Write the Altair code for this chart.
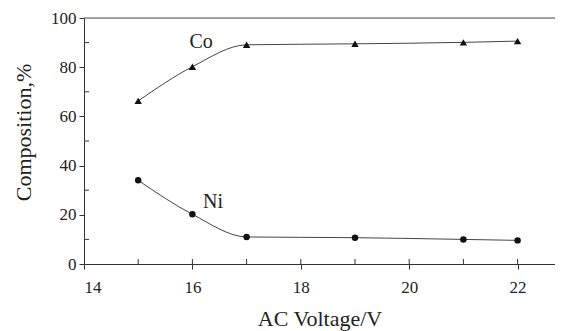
import altair as alt
import pandas as pd

voltage = [15, 16, 17, 19, 21, 22]
co = [66.3, 80.2, 89.1, 89.5, 90.1, 90.6]
ni = [34.0, 20.2, 11.0, 10.7, 10.0, 9.6]

x_major = [14, 16, 18, 20, 22]
x_minor = [15, 16, 17, 18, 19, 20, 21, 22]
y_major = [0, 20, 40, 60, 80, 100]
y_minor = [10, 30, 50, 70, 90]

labels = ["Co", "Ni"]
label_x = [16.16, 16.38]
label_y = [87.8, 22.8]

FONT = "Liberation Serif"
W, H = 471, 246
PX_PER_V = 54.2

df = pd.DataFrame({
    "v": voltage * 2,
    "c": co + ni,
    "s": ["Co"] * len(voltage) + ["Ni"] * len(voltage),
})

xs = alt.Scale(domain=[14, 14 + W / PX_PER_V], nice=False, zero=False)
ys = alt.Scale(domain=[0, 100], nice=False)

xax = alt.Axis(values=x_major, format="d", title="AC Voltage/V", tickSize=5,
               labelFont=FONT, labelFontSize=17, labelColor="#222", labelPadding=10,
               titleFont=FONT, titleFontSize=22, titleFontWeight="normal", titleColor="#222",
               titlePadding=13, grid=False, domainColor="#333", tickColor="#333")
yax = alt.Axis(values=y_major, title="Composition,%", tickSize=5,
               labelFont=FONT, labelFontSize=17, labelColor="#222", labelPadding=3,
               titleFont=FONT, titleFontSize=22, titleFontWeight="normal", titleColor="#222",
               titleX=-61, titleY=114, titleAlign="center", titleBaseline="middle", titleAngle=270,
               grid=False, domainColor="#333", tickColor="#333")

base = alt.Chart(df)

lines = base.mark_line(interpolate="monotone", color="#444", strokeWidth=1).encode(
    x=alt.X("v:Q", scale=xs, axis=xax),
    y=alt.Y("c:Q", scale=ys, axis=yax),
    detail="s:N",
)

pts = base.mark_point(filled=True, opacity=1, color="#111").encode(
    x=alt.X("v:Q", scale=xs),
    y=alt.Y("c:Q", scale=ys),
    shape=alt.Shape("s:N", scale=alt.Scale(domain=["Co", "Ni"], range=["triangle-up", "circle"]), legend=None),
    size=alt.Size("s:N", scale=alt.Scale(domain=["Co", "Ni"], range=[55, 42]), legend=None),
)

lab = alt.Chart(pd.DataFrame({"t": labels, "x": label_x, "y": label_y})).mark_text(
    font=FONT, fontSize=20, color="#222", baseline="alphabetic").encode(
    x=alt.X("x:Q", scale=xs), y=alt.Y("y:Q", scale=ys), text="t:N")

top = alt.Chart(pd.DataFrame({"y": [100]})).mark_rule(color="#555", strokeWidth=1).encode(
    y=alt.Y("y:Q", scale=ys), x=alt.value(0), x2=alt.value(W))

ymin = alt.Chart(pd.DataFrame({"y": y_minor})).mark_rule(color="#333", strokeWidth=1).encode(
    y=alt.Y("y:Q", scale=ys), x=alt.value(0), x2=alt.value(5))

xmin = alt.Chart(pd.DataFrame({"x": x_minor})).mark_rule(color="#333", strokeWidth=1).encode(
    x=alt.X("x:Q", scale=xs), y=alt.value(H), y2=alt.value(H - 5))

chart = alt.layer(top, ymin, xmin, lines, pts, lab).properties(
    width=W, height=H,
    autosize=alt.AutoSizeParams(type="none"),
    padding={"left": 76, "top": 10, "right": 0, "bottom": 67},
).configure_view(stroke=None).configure(background="white")

chart.save("out.html", embed_options={"renderer": "svg", "actions": False})
